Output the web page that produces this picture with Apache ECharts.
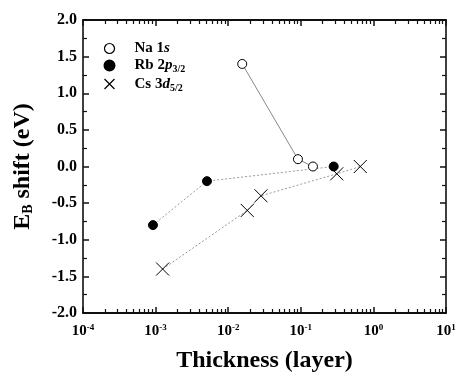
<!DOCTYPE html>
<html><head><meta charset="utf-8">
<script src="https://cdn.jsdelivr.net/npm/echarts@6/dist/echarts.min.js"></script>
<style>html,body{margin:0;padding:0;background:#fff}#c{width:456px;height:372px}</style>
</head><body><div id="c"></div>
<script>
const naX = [0.0156, 0.0914, 0.147];
const naY = [1.40, 0.10, 0.00];
const rbX = [0.00092, 0.0051, 0.284];
const rbY = [-0.80, -0.20, 0.00];
const csX = [0.00125, 0.0183, 0.0283, 0.313, 0.66];
const csY = [-1.40, -0.60, -0.40, -0.10, 0.00];
const xMajorTicks = [1e-4, 1e-3, 1e-2, 1e-1, 1e0, 1e1];
const yTicks = [-2.0, -1.5, -1.0, -0.5, 0.0, 0.5, 1.0, 1.5, 2.0];

const FONT = '"Liberation Serif", "Times New Roman", serif';
const zip = (a, b) => a.map((v, i) => [v, b[i]]);
const minorExp = [];
for (let e = -4; e < 1; e++) for (let k = 2; k <= 9; k++) minorExp.push(e + Math.log10(k));
const majorExp = xMajorTicks.map(v => Math.log10(v));
const crossPath = 'path://M0,0L10,10M10,0L0,10';

const chart = echarts.init(document.getElementById('c'));
const mkLine = () => ({ show: true, onZero: false, lineStyle: { color: '#000', width: 1.5 } });
const mkTick = (len, w) => ({ show: true, inside: true, length: len, lineStyle: { color: '#111', width: w } });
const tickAxis = (pos, len, w, vals) => ({
  type: 'value', min: -4, max: 1, position: pos,
  axisLine: mkLine(), splitLine: { show: false },
  axisTick: Object.assign(mkTick(len, w), { customValues: vals }),
  axisLabel: { show: false }
});
chart.setOption({
  animation: false,
  grid: { left: 83, right: 10, top: 20, bottom: 59, outerBoundsMode: 'none' },
  xAxis: [
    {
      type: 'log', min: 1e-4, max: 10, position: 'bottom',
      axisLine: mkLine(), splitLine: { show: false },
      axisTick: mkTick(6, 1.5),
      axisLabel: {
        margin: 10,
        formatter: v => '{b|10}{e|' + Math.round(Math.log10(v)) + '}',
        rich: {
          b: { fontFamily: FONT, fontWeight: 'bold', fontSize: 15, color: '#000' },
          e: { fontFamily: FONT, fontWeight: 'bold', fontSize: 9, color: '#000', padding: [0, 0, 8, 0] }
        }
      },
      name: 'Thickness (layer)', nameLocation: 'middle', nameGap: 36,
      nameTextStyle: { fontFamily: FONT, fontWeight: 'bold', fontSize: 24, color: '#000' }
    },
    tickAxis('bottom', 4, 1.2, minorExp),
    tickAxis('top', 6, 1.5, majorExp),
    tickAxis('top', 4, 1.2, minorExp)
  ],
  yAxis: [
    {
      type: 'value', min: -2, max: 2, interval: 0.5, position: 'left',
      axisLine: mkLine(), splitLine: { show: false },
      axisTick: mkTick(6, 1.5),
      minorTick: { show: true, splitNumber: 2, length: 4, lineStyle: { color: '#111', width: 1.2 } },
      axisLabel: {
        margin: 6, fontFamily: FONT, fontWeight: 'bold', fontSize: 16, color: '#000',
        formatter: v => v.toFixed(1)
      },
      name: '{m|E}{s|B}{m| shift (eV)}', nameLocation: 'middle', nameGap: 48, nameRotate: 90,
      nameTextStyle: {
        rich: {
          m: { fontFamily: FONT, fontWeight: 'bold', fontSize: 24, color: '#000' },
          s: { fontFamily: FONT, fontWeight: 'bold', fontSize: 14, color: '#000', padding: [10, 0, 0, 0] }
        }
      }
    },
    {
      type: 'value', min: -2, max: 2, interval: 0.5, position: 'right',
      axisLine: mkLine(), splitLine: { show: false },
      axisTick: mkTick(6, 1.5),
      minorTick: { show: true, splitNumber: 2, length: 4, lineStyle: { color: '#111', width: 1.2 } },
      axisLabel: { show: false }
    }
  ],
  legend: {
    orient: 'vertical', left: 102, top: 41, padding: 0, itemGap: 2, itemWidth: 10, itemHeight: 10,
    formatter: n => ({
      'Na 1s': '{r|Na 1}{i|s}',
      'Rb 2p3/2': '{r|Rb 2}{i|p}{sub|3/2}',
      'Cs 3d5/2': '{r|Cs 3}{i|d}{sub|5/2}'
    })[n],
    textStyle: {
      fontFamily: FONT, fontWeight: 'bold', fontSize: 15, color: '#000', padding: [0, 0, 0, 15],
      rich: {
        r: { fontFamily: FONT, fontWeight: 'bold', fontSize: 15, color: '#000', lineHeight: 16 },
        i: { fontFamily: FONT, fontWeight: 'bold', fontStyle: 'italic', fontSize: 15, color: '#000', lineHeight: 16 },
        sub: { fontFamily: FONT, fontWeight: 'bold', fontSize: 10, color: '#000', padding: [8, 0, 0, 0] }
      }
    },
    data: [
      { name: 'Na 1s', icon: 'circle', itemStyle: { color: '#fff', borderColor: '#000', borderWidth: 1.2 } },
      { name: 'Rb 2p3/2', icon: 'circle', itemStyle: { color: '#000', borderColor: '#000' } },
      { name: 'Cs 3d5/2', icon: crossPath, itemStyle: { color: 'none', borderColor: '#000', borderWidth: 1.2 } }
    ]
  },
  series: [
    {
      name: 'Na 1s', type: 'line', xAxisIndex: 0, yAxisIndex: 0, data: zip(naX, naY),
      symbol: 'circle', symbolSize: 9,
      itemStyle: { color: '#fff', borderColor: '#000', borderWidth: 1 },
      lineStyle: { color: '#888', width: 1, type: 'solid' }, z: 3
    },
    {
      name: 'Rb 2p3/2', type: 'line', xAxisIndex: 0, yAxisIndex: 0, data: zip(rbX, rbY),
      symbol: 'circle', symbolSize: 9,
      itemStyle: { color: '#000', borderColor: '#000', borderWidth: 1 },
      lineStyle: { color: '#999', width: 1, type: [2, 2] }, z: 3
    },
    {
      name: 'Cs 3d5/2', type: 'line', xAxisIndex: 0, yAxisIndex: 0, data: zip(csX, csY),
      symbol: crossPath, symbolSize: 13,
      itemStyle: { color: 'none', borderColor: '#000', borderWidth: 1 },
      lineStyle: { color: '#999', width: 1, type: [2, 2] }, z: 3
    }
  ]
});
</script></body></html>
